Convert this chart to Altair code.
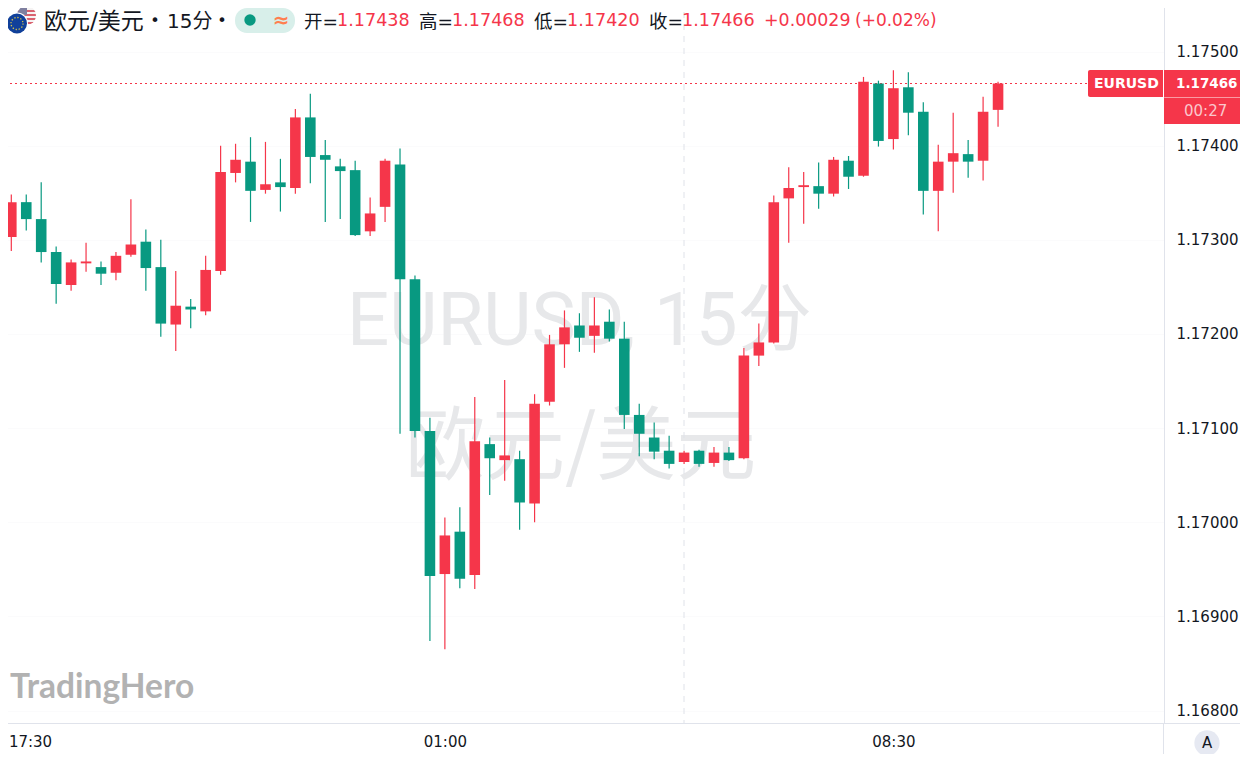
import base64
import altair as alt
import pandas as pd

opens = [117276,117303,117340,117322,117287,117252,117275,117271,117265,117284,117298,117271,117210,117229,117224,117267,117371,117383,117353,117361,117355,117430,117390,117378,117374,117309,117335,117380,117258,117097,116945,116990,116944,117083,117066,117067,117020,117128,117189,117209,117198,117213,117195,117114,117090,117076,117064,117076,117063,117074,117068,117177,117191,117344,117356,117357,117349,117384,117368,117466,117407,117462,117436,117352,117383,117391,117384,117438]
highs = [117305,117348,117348,117361,117293,117279,117297,117277,117287,117343,117311,117300,117267,117237,117283,117400,117402,117409,117404,117386,117439,117455,117406,117386,117384,117345,117386,117397,117262,117111,117005,117016,117133,117090,117151,117076,117136,117199,117225,117222,117239,117226,117213,117126,117106,117092,117076,117077,117080,117080,117185,117211,117347,117377,117372,117382,117388,117389,117473,117469,117480,117478,117446,117401,117435,117406,117452,117468]
lows = [117270,117288,117310,117276,117232,117246,117266,117252,117257,117282,117246,117197,117182,117206,117220,117263,117361,117319,117349,117330,117349,117360,117319,117322,117304,117304,117319,117094,117090,116874,116865,116930,116929,117029,117044,116992,117000,117124,117164,117181,117180,117192,117099,117070,117067,117057,117062,117059,117059,117065,117067,117166,117190,117297,117317,117333,117346,117354,117367,117399,117396,117411,117327,117309,117350,117366,117363,117420]
closes = [117302,117340,117322,117287,117253,117276,117277,117264,117283,117295,117270,117211,117230,117226,117268,117372,117385,117352,117359,117356,117430,117388,117385,117373,117305,117328,117384,117258,117097,116943,116986,116940,117086,117068,117071,117021,117126,117189,117207,117196,117209,117195,117114,117094,117075,117062,117074,117062,117074,117066,117177,117191,117340,117355,117358,117349,117385,117367,117468,117405,117461,117435,117352,117383,117392,117383,117436,117466]
first_index = -1

y_ticks = [1.168, 1.169, 1.170, 1.171, 1.172, 1.173, 1.174, 1.175]
x_tick_pos = [1.25, 29, 59]
last_price = 1.17466

UP, DOWN = "#f5364a", "#089981"
SANS = "DejaVu Sans"
CJK = "Noto Sans CJK SC"
MIX = "DejaVu Sans, Noto Sans CJK SC"
one = pd.DataFrame({"a": [0]})

df = pd.DataFrame({
    "i": range(first_index, first_index + len(opens)),
    "o": [v / 1e5 for v in opens],
    "h": [v / 1e5 for v in highs],
    "l": [v / 1e5 for v in lows],
    "c": [v / 1e5 for v in closes],
})
df["top"] = df[["o", "c"]].max(axis=1)
df["bot"] = df[["o", "c"]].min(axis=1)
df["dir"] = ["up" if c >= o else "down" for o, c in zip(df.o, df.c)]

xs = alt.Scale(domain=[-0.756, 77.1], nice=False, zero=False, padding=0)
ys = alt.Scale(domain=[1.167868, 1.175547], nice=False, zero=False, padding=0)
col = alt.Color("dir:N", scale=alt.Scale(domain=["up", "down"], range=[UP, DOWN]), legend=None)


def txt(x, y, s, size=16, color="#131722", font=SANS, align="left", weight="normal"):
    return alt.Chart(one).mark_text(
        text=s, fontSize=size, color=color, font=font, align=align, baseline="middle", fontWeight=weight
    ).encode(x=alt.value(x), y=alt.value(y))


def box(x, x2, y, y2, color, **kw):
    return alt.Chart(one).mark_rect(color=color, **kw).encode(
        x=alt.value(x), x2=alt.value(x2), y=alt.value(y), y2=alt.value(y2)
    )


def line(x, x2, y, y2, color, **kw):
    return alt.Chart(one).mark_rule(color=color, **kw).encode(
        x=alt.value(x), x2=alt.value(x2), y=alt.value(y), y2=alt.value(y2)
    )


base_axes = alt.Chart(df).mark_bar(opacity=0).encode(
    x=alt.X("i:Q", scale=xs, axis=alt.Axis(
        values=x_tick_pos, title=None, grid=False, ticks=False, domainColor="#e0e3eb", domainWidth=1,
        labelFontSize=15, labelFont=SANS, labelColor="#131722", labelPadding=11,
        labelExpr="datum.value < 15 ? '17:30' : datum.value < 40 ? '01:00' : '08:30'")),
    y=alt.Y("h:Q", scale=ys, axis=alt.Axis(
        orient="right", values=y_ticks, format=".5f", title=None, grid=True, gridColor="#fbfbfc", ticks=False,
        domainColor="#e0e3eb", domainWidth=1, labelFontSize=15, labelFont=SANS, labelColor="#131722",
        labelPadding=12, labelAlign="left")),
)

wicks = alt.Chart(df).mark_rule(strokeWidth=1.2).encode(
    x=alt.X("i:Q", scale=xs), y=alt.Y("h:Q", scale=ys), y2="l:Q", color=col
)
bodies = alt.Chart(df).mark_bar(size=10.6).encode(
    x=alt.X("i:Q", scale=xs), y=alt.Y("top:Q", scale=ys), y2="bot:Q", color=col
)

price_line = alt.Chart(pd.DataFrame({"p": [last_price]})).mark_rule(
    color=UP, strokeWidth=1.2, strokeDash=[2, 3]
).encode(y=alt.Y("p:Q", scale=ys), x=alt.value(0), x2=alt.value(1088))

flag_svg = """<svg xmlns="http://www.w3.org/2000/svg" viewBox="0 0 32 32" width="32" height="32">
<defs><clipPath id="u"><circle cx="20.5" cy="10.5" r="9.5"/></clipPath></defs>
<g clip-path="url(#u)"><rect x="10" y="0" width="22" height="22" fill="#f6f3f3"/>
<rect x="10" y="1" width="22" height="2" fill="#d9616f"/><rect x="10" y="5" width="22" height="2" fill="#d9616f"/>
<rect x="10" y="9" width="22" height="2" fill="#d9616f"/><rect x="10" y="13" width="22" height="2" fill="#d9616f"/>
<rect x="10" y="17" width="22" height="2" fill="#d9616f"/><rect x="10" y="0" width="11" height="10" fill="#7f7f9f"/></g>
<circle cx="11" cy="18.5" r="11" fill="#fff"/><circle cx="11" cy="18.5" r="10" fill="#10409a"/>
<circle cx="11" cy="18.5" r="6" fill="none" stroke="#d9c54a" stroke-width="1.3" stroke-dasharray="1.3 1.8"/>
</svg>"""
flag = alt.Chart(one).mark_image(
    url="data:image/svg+xml;base64," + base64.b64encode(flag_svg.encode()).decode(), width=32, height=32
).encode(x=alt.value(22), y=alt.value(21))

layers = [
    txt(347, 323, "EURUSD, 15分", 74.4, "#e7e8ea", "Roboto, Noto Sans CJK SC"),
    txt(405, 449, "欧元/美元", 80, "#e7e8ea", CJK),
    line(684, 684, 0, 723, "#dfe2e9", strokeDash=[6, 6], strokeWidth=1),
    base_axes,
    price_line,
    wicks,
    bodies,
    flag,
    txt(44, 22, "欧元/美元", 23, "#131722", MIX),
    txt(155, 21, "•", 16, "#131722", SANS, "center"),
    txt(167, 22, "15分", 20, "#131722", MIX),
    txt(222, 21, "•", 16, "#131722", SANS, "center"),
    box(235, 295, 8, 33, "#d8efea", cornerRadius=12),
    alt.Chart(one).mark_point(filled=True, color="#089981", size=130, opacity=1).encode(x=alt.value(250), y=alt.value(20)),
    txt(281, 21, "≈", 20, "#ff7f50", SANS, "center", "bold"),
    txt(304, 22, "开=", 18.5, "#131722", MIX),
    txt(337, 21, "1.17438", 17.6, UP),
    txt(419, 22, "高=", 18.5, "#131722", MIX),
    txt(452, 21, "1.17468", 17.6, UP),
    txt(534, 22, "低=", 18.5, "#131722", MIX),
    txt(567, 21, "1.17420", 17.6, UP),
    txt(649, 22, "收=", 18.5, "#131722", MIX),
    txt(682, 21, "1.17466", 17.6, UP),
    txt(764, 21, "+0.00029", 17.4, UP),
    txt(855, 21, "(+0.02%)", 17, UP),
    txt(10, 688, "TradingHero", 33.5, "#b2b2b2", "Lato", "left", "bold"),
    box(1088, 1163, 70, 97, UP, cornerRadiusTopLeft=2, cornerRadiusBottomLeft=2),
    txt(1094, 84, "EURUSD", 14, "#ffffff", SANS, "left", "bold"),
    box(1164, 1248, 70, 97, UP),
    txt(1176, 84, "1.17466", 13.5, "#ffffff", SANS, "left", "bold"),
    box(1164, 1248, 97.5, 124, UP),
    txt(1184, 111, "00:27", 15, "#fbc6cc", SANS),
    line(1164, 1248, 723.5, 723.5, "#e0e3eb", strokeWidth=1),
    line(0, 1248, 761.5, 761.5, "#e0e3eb", strokeWidth=1),
    line(1163.5, 1163.5, 723, 762, "#e0e3eb", strokeWidth=1),
    alt.Chart(one).mark_point(filled=True, color="#e6e9f2", size=640, opacity=1).encode(x=alt.value(1207), y=alt.value(743)),
    txt(1207, 743, "A", 15, "#131722", SANS, "center"),
]

chart = alt.layer(*layers).resolve_scale(color="independent").properties(
    width=1164, height=723,
    padding={"left": -8, "top": -8, "right": 76, "bottom": 31},
    autosize=alt.AutoSizeParams(type="none"),
).configure_view(stroke=None)

chart.save("out.html", embed_options={"renderer": "svg", "actions": False})
